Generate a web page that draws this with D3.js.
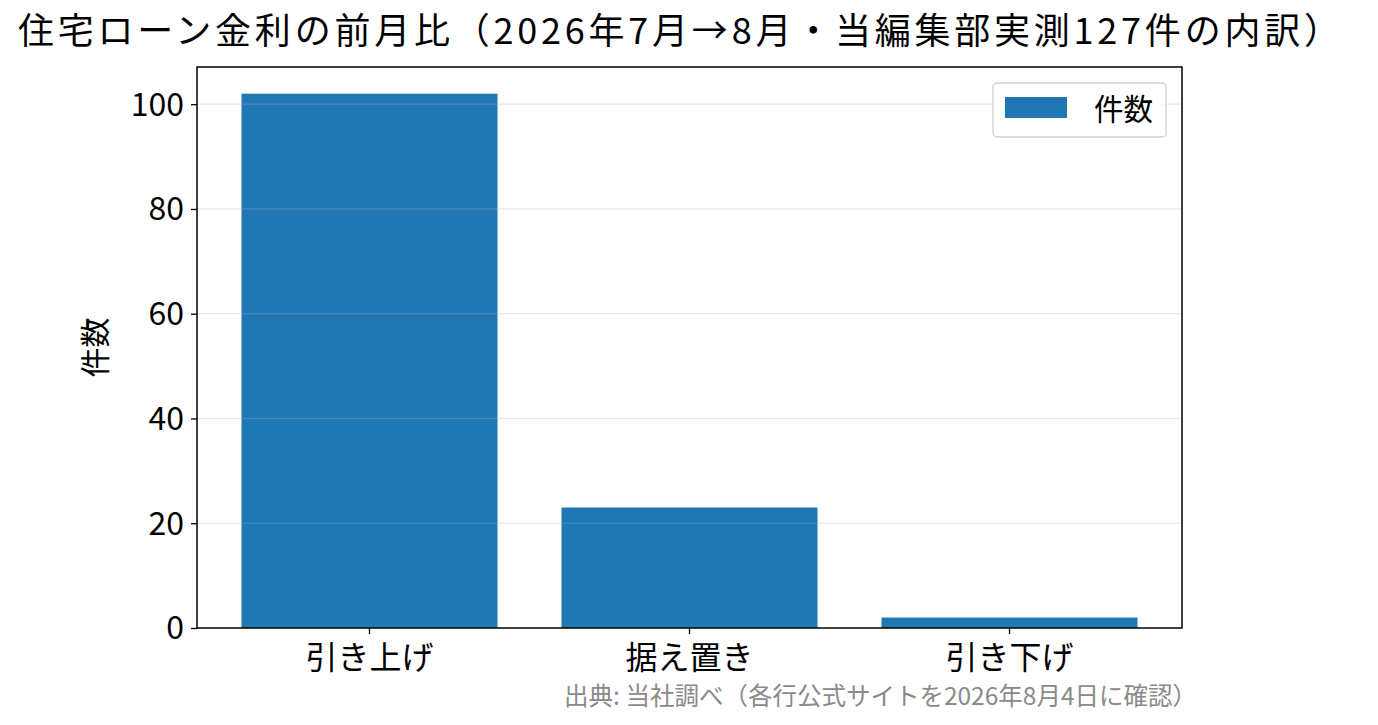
<!DOCTYPE html>
<html>
<head>
<meta charset="utf-8">
<script src="https://cdn.jsdelivr.net/npm/d3@7"></script>
<style>
  body { margin: 0; background: #fff; }
  text { font-family: "Noto Sans CJK JP", "Noto Sans", sans-serif; }
</style>
</head>
<body>
<script>
// chart data
const categories = ["引き上げ", "据え置き", "引き下げ"];
const counts = [102, 23, 2];
const yTicks = [0, 20, 40, 60, 80, 100];
const titleText = "住宅ローン金利の前月比（2026年7月→8月・当編集部実測127件の内訳）";
const sourceText = "出典: 当社調べ（各行公式サイトを2026年8月4日に確認）";
const seriesName = "件数";

// layout
const width = 1378;
const height = 725;
const plot = { left: 197, right: 1182, top: 67, bottom: 628 };
const barColor = "#1f77b4";

const svg = d3.select("body").append("svg")
  .attr("width", width)
  .attr("height", height);

const xScale = d3.scaleBand()
  .domain(categories)
  .range([plot.left, plot.right])
  .paddingInner(0.2)
  .paddingOuter(0.139);

const yScale = d3.scaleLinear()
  .domain([0, d3.max(counts) * 1.05])
  .range([plot.bottom, plot.top]);

// bars
svg.selectAll(".bar")
  .data(counts)
  .enter()
  .append("rect")
  .attr("class", "bar")
  .attr("x", function(d, i) { return xScale(categories[i]); })
  .attr("y", function(d) { return yScale(d); })
  .attr("width", xScale.bandwidth())
  .attr("height", function(d) { return plot.bottom - yScale(d); })
  .attr("fill", barColor);

// grid on top of bars, faint
svg.selectAll(".grid")
  .data(yTicks.filter(function(t) { return t > 0; }))
  .enter()
  .append("line")
  .attr("x1", plot.left)
  .attr("x2", plot.right)
  .attr("y1", function(d) { return yScale(d); })
  .attr("y2", function(d) { return yScale(d); })
  .attr("stroke", "#b0b0b0")
  .attr("stroke-opacity", 0.3)
  .attr("stroke-width", 1.2);

// axes
const yAxis = svg.append("g")
  .attr("transform", "translate(" + plot.left + ",0)")
  .call(d3.axisLeft(yScale).tickValues(yTicks).tickSize(6).tickPadding(7).tickFormat(d3.format("d")));
yAxis.select(".domain").remove();
yAxis.selectAll("text").attr("font-size", 32).attr("fill", "#000").attr("dy", "0.34em");
yAxis.selectAll("line").attr("stroke", "#000").attr("stroke-width", 1.3);

const xAxis = svg.append("g")
  .attr("transform", "translate(0," + plot.bottom + ")")
  .call(d3.axisBottom(xScale).tickSize(6).tickPadding(9));
xAxis.select(".domain").remove();
xAxis.selectAll("text").attr("font-size", 32).attr("fill", "#000").attr("dy", "0.8em");
xAxis.selectAll("line").attr("stroke", "#000").attr("stroke-width", 1.3);

// frame
svg.append("rect")
  .attr("x", plot.left)
  .attr("y", plot.top)
  .attr("width", plot.right - plot.left)
  .attr("height", plot.bottom - plot.top)
  .attr("fill", "none")
  .attr("stroke", "#000")
  .attr("stroke-width", 1.5);

// y label
svg.append("text")
  .attr("transform", "translate(106," + (plot.top + plot.bottom) / 2 + ") rotate(-90)")
  .attr("text-anchor", "middle")
  .attr("font-size", 30)
  .text(seriesName);

// title
svg.append("text")
  .attr("x", 18)
  .attr("y", 44)
  .attr("font-size", 36)
  .attr("textLength", 1322)
  .attr("lengthAdjust", "spacing")
  .text(titleText);

// legend
const legend = svg.append("g");
legend.append("rect")
  .attr("x", 993).attr("y", 83)
  .attr("width", 173).attr("height", 54)
  .attr("rx", 4)
  .attr("fill", "#fff")
  .attr("fill-opacity", 0.8)
  .attr("stroke", "#d0d0d0")
  .attr("stroke-width", 1.3);
legend.append("rect")
  .attr("x", 1005).attr("y", 97)
  .attr("width", 62).attr("height", 21)
  .attr("fill", barColor);
legend.append("text")
  .attr("x", 1094).attr("y", 120)
  .attr("font-size", 29.5)
  .text(seriesName);

// source note
svg.append("text")
  .attr("x", 1197)
  .attr("y", 705)
  .attr("text-anchor", "end")
  .attr("font-size", 24.5)
  .attr("fill", "#8a8a8a")
  .text(sourceText);
</script>
</body>
</html>
